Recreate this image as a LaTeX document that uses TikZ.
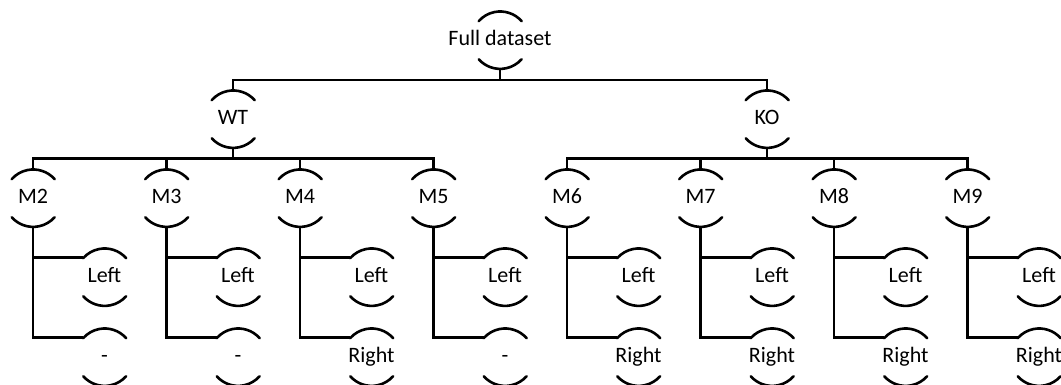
\documentclass[tikz,border=0pt]{standalone}
\usepackage{fontspec}
\setmainfont{Carlito}
\usetikzlibrary{calc}

\tikzset{
  ring/.style={circle, draw=none, minimum size=57.4pt, inner sep=0pt, outer sep=0pt},
  lbl/.style={inner sep=0pt, font=\fontsize{22pt}{26pt}\selectfont,
              text height=16pt, text depth=5pt, text=black},
  wire/.style={line width=2.8pt, line cap=butt, line join=miter},
  arcline/.style={line width=2.6pt, line cap=round},
}

% a node with a text and two arcs above and below it
\newcommand\ringnode[4]{%
  \node[ring] (#1) at (#2,#3) {};
  \node[lbl] (#1-t) at (#1.center) {#4};
  \draw[arcline] (#1.41.5) arc[start angle=41.5, end angle=138.5, radius=28.7pt];
  \draw[arcline] (#1.-138.5) arc[start angle=-138.5, end angle=-41.5, radius=28.7pt];
}

\begin{document}
\begin{tikzpicture}[x=1pt, y=1pt]
  \useasboundingbox (0,0) rectangle (1061,385);
  \clip (0,0) rectangle (1061,385);

  % levels of the tree
  \def\yA{345}\def\yB{266}\def\yC{187}\def\yD{108}\def\yE{28}
  \coordinate (bar1) at (0,305);
  \coordinate (bar2) at (0,226.5);

  \ringnode{full}{500}{\yA}{Full dataset}
  \ringnode{wt}{233}{\yB}{WT}
  \ringnode{ko}{767}{\yB}{KO}

  \foreach \i/\lab in {0/M2,1/M3,2/M4,3/M5,4/M6,5/M7,6/M8,7/M9} {
    \pgfmathsetmacro\xm{33+133.5*\i}
    \pgfmathsetmacro\xc{\xm+71.5}
    \ringnode{m\i}{\xm}{\yC}{\lab}
    \ringnode{l\i}{\xc}{\yD}{Left}
  }
  \foreach \i/\lab in {0/-,1/-,2/Right,3/-,4/Right,5/Right,6/Right,7/Right} {
    \pgfmathsetmacro\xc{33+133.5*\i+71.5}
    \ringnode{r\i}{\xc}{\yE}{\lab}
  }

  % connectors between the first levels
  \draw[wire] (full.south) -- (full.south |- bar1);
  \draw[wire] (wt.north) -- (wt.north |- bar1) -- (ko.north |- bar1) -- (ko.north);

  \draw[wire] (wt.south) -- (wt.south |- bar2);
  \draw[wire] (m0.north) -- (m0.north |- bar2) -- (m3.north |- bar2) -- (m3.north);
  \draw[wire] (m1.north) -- (m1.north |- bar2);
  \draw[wire] (m2.north) -- (m2.north |- bar2);

  \draw[wire] (ko.south) -- (ko.south |- bar2);
  \draw[wire] (m4.north) -- (m4.north |- bar2) -- (m7.north |- bar2) -- (m7.north);
  \draw[wire] (m5.north) -- (m5.north |- bar2);
  \draw[wire] (m6.north) -- (m6.north |- bar2);

  % each group to its two children
  \foreach \i in {0,...,7} {
    \draw[wire] (m\i.south) |- (r\i.138.5);
    \draw[wire] (m\i.south |- l\i.138.5) -- (l\i.138.5);
  }
\end{tikzpicture}
\end{document}
